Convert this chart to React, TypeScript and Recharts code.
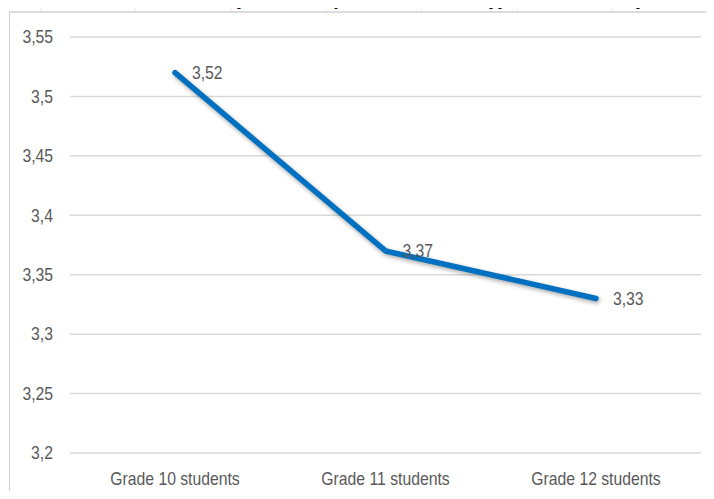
import React from 'react';
import { LineChart, Line, XAxis, YAxis, CartesianGrid, LabelList } from 'recharts';

const categories = ['Grade 10 students', 'Grade 11 students', 'Grade 12 students'];
const meanScores = [3.52, 3.37, 3.33];
const yTicks = [3.2, 3.25, 3.3, 3.35, 3.4, 3.45, 3.5, 3.55];

const data = categories.map((c, i) => ({ name: c, value: meanScores[i] }));

const FONT = '"Liberation Sans", Arial, sans-serif';
const FS = 17.5;
const SX = 0.9;
const GREY = '#595959';
const fmt = (v: number) => String(v).replace('.', ',');

const NarrowText = ({ x, y, anchor, children }: any) => (
  <text
    transform={`translate(${x},${y}) scale(${SX},1)`}
    x={0}
    y={0}
    dy="0.36em"
    fill={GREY}
    fontSize={FS}
    fontFamily={FONT}
    textAnchor={anchor}
  >
    {children}
  </text>
);

const ValueLabel = (props: any) => {
  const { x, y, value } = props;
  return <NarrowText x={x + 17} y={y} anchor="start">{fmt(value)}</NarrowText>;
};

const YTick = (props: any) => {
  const { y, payload } = props;
  return <NarrowText x={53} y={y} anchor="end">{fmt(payload.value)}</NarrowText>;
};

const XTick = (props: any) => {
  const { x, y, payload } = props;
  return <NarrowText x={x} y={y + 26} anchor="middle">{payload.value}</NarrowText>;
};

const captionFrags = [
  { x: 238, t: 'p' },
  { x: 336, t: 'y' },
  { x: 490, t: 'pp' },
  { x: 637, t: 'p' },
  { x: 709, t: 'j' },
];

const rulerTicks = [40, 135, 231, 326, 421, 517, 612, 708];

export default function App() {
  return (
    <div style={{ position: 'relative', margin: -8, width: 714, height: 499, overflow: 'hidden', background: '#fff' }}>
      <style>{`.recharts-line-curve { filter: drop-shadow(1px 2px 2px rgba(0,0,0,0.35)); }`}</style>
      <div style={{ position: 'absolute', left: 9, top: 11, width: 705, height: 2, background: '#dcdcdc' }} />
      {rulerTicks.map((x, i) => (
        <div key={i} style={{ position: 'absolute', left: x, top: 9, width: 1, height: 2, background: '#e6e6e6' }} />
      ))}
      <div style={{ position: 'absolute', left: 9, top: 12, width: 1, height: 487, background: '#d4d4d4' }} />
      <div style={{ position: 'absolute', left: 0, top: 0 }}>
        <LineChart width={714} height={499} data={data} margin={{ top: 37, right: 13, bottom: 16, left: 0 }}>
          <CartesianGrid vertical={false} stroke="#d9d9d9" strokeWidth={1.5} />
          <XAxis
            dataKey="name"
            axisLine={false}
            tickLine={false}
            height={30}
            padding={{ left: 105, right: 105 }}
            tick={<XTick />}
            tickSize={0}
            tickMargin={0}
          />
          <YAxis
            domain={[3.2, 3.55]}
            ticks={yTicks}
            interval={0}
            axisLine={false}
            tickLine={false}
            width={70}
            tick={<YTick />}
          />
          <Line
            type="linear"
            dataKey="value"
            stroke="#0070C0"
            strokeWidth={5.5}
            strokeLinecap="round"
            strokeLinejoin="round"
            dot={false}
            activeDot={false}
            isAnimationActive={false}
          >
            <LabelList dataKey="value" content={<ValueLabel />} />
          </Line>
        </LineChart>
      </div>
      {captionFrags.map((f, i) => (
        <span
          key={i}
          style={{ position: 'absolute', left: f.x, top: -10, fontFamily: '"Liberation Serif", serif', fontStyle: 'italic', fontSize: 18, lineHeight: '18px', color: '#000' }}
        >
          {f.t}
        </span>
      ))}
    </div>
  );
}
